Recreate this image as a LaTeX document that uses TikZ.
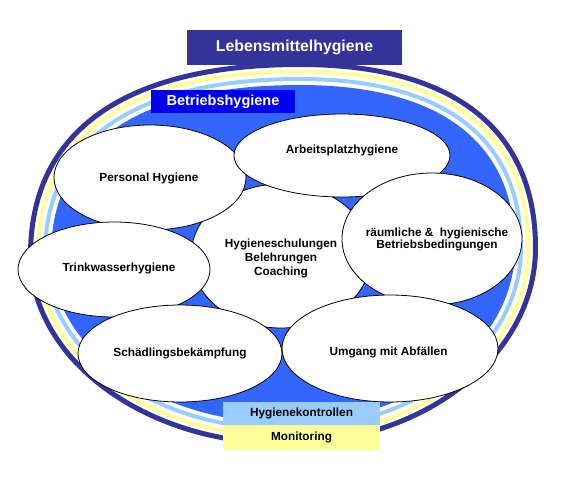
\documentclass[tikz,border=0pt]{standalone}
\usepackage{fontspec}
\setmainfont{Liberation Sans}
\usetikzlibrary{shapes.geometric}
\definecolor{navy}{HTML}{333399}
\definecolor{ringyellow}{HTML}{FFFF99}
\definecolor{ringblue}{HTML}{99CCFF}
\definecolor{fillblue}{HTML}{3366FF}
\definecolor{boxblue}{HTML}{0000F0}
\tikzset{
  ringpath/.style={insert path={
    ({538-#1},248) .. controls ({538-#1},{248-0.65*(186-#1)}) and ({300+0.65*(238-#1)},{62+#1}) .. (300,{62+#1})
    .. controls ({300-0.65*(272-#1)},{62+#1}) and ({28+#1},{255-0.65*(193-#1)}) .. ({28+#1},255)
    .. controls ({28+#1},{255+0.552*(191-#1)}) and ({285-0.552*(257-#1)},{446-#1}) .. (285,{446-#1})
    .. controls ({285+0.552*(253-#1)},{446-#1}) and ({538-#1},{248+0.552*(198-#1)}) .. ({538-#1},248) -- cycle}},
  bub/.style={ellipse, draw=black, line width=0.8pt, fill=white, inner sep=0pt},
  lbl/.style={font=\bfseries\fontsize{11.8}{14}\selectfont, align=center, inner sep=0pt, text=black},
  tagbox/.style={inner sep=0pt, draw=none},
}
\begin{document}
\begin{tikzpicture}[x=1pt,y=-1pt]
\useasboundingbox (0,0) rectangle (565,491);
% rings
\draw[navy, line width=5pt, ringpath=2.5];
\draw[ringyellow, line width=4pt, ringpath=9.5];
\draw[ringblue, line width=4pt, ringpath=17];
\fill[fillblue, ringpath=23];
% ellipses
\node[bub, minimum width=180pt, minimum height=144pt] (core) at (281,256) {};
\node[bub, minimum width=192pt, minimum height=105pt] (pers) at (150,177.5) {};
\node[bub, minimum width=216pt, minimum height=83pt] (arb) at (342,155.5) {};
\node[bub, minimum width=180pt, minimum height=132pt] (raum) at (432,239) {};
\node[bub, minimum width=192pt, minimum height=95pt] (trink) at (114,269.5) {};
\node[bub, minimum width=204pt, minimum height=97pt] (schaed) at (180,353.5) {};
\node[bub, minimum width=216pt, minimum height=107pt] (umg) at (390,348.5) {};
% labels
\node[lbl] (coreT) at (281,258) {Hygieneschulungen\\Belehrungen\\Coaching};
\node[lbl] (persT) at (149,178) {Personal Hygiene};
\node[lbl] (arbT) at (342,150) {Arbeitsplatzhygiene};
\node[lbl, font=\bfseries\fontsize{11.8}{12.5}\selectfont] (raumT) at (437,239.5) {räumliche \&\ \ hygienische\\Betriebsbedingungen};
\node[lbl] (trinkT) at (119,268) {Trinkwasserhygiene};
\node[lbl] (schaedT) at (180,353) {Schädlingsbekämpfung};
\node[lbl] (umgT) at (388.5,352) {Umgang mit Abfällen};
% boxes
\node[tagbox, fill=navy, minimum width=215pt, minimum height=35pt, text=white,
      font=\bfseries\fontsize{15.8}{18}\selectfont] (title) at (294.5,47.5) {Lebensmittelhygiene};
\node[tagbox, fill=boxblue, minimum width=144pt, minimum height=23pt, text=white,
      font=\bfseries\fontsize{14.5}{16}\selectfont] (betr) at (223,101.5) {Betriebshygiene};
\node[tagbox, fill=ringblue, minimum width=157pt, minimum height=23pt,
      font=\bfseries\fontsize{11.8}{14}\selectfont] (kontr) at (301.5,413.5) {Hygienekontrollen};
\node[tagbox, fill=ringyellow, minimum width=157pt, minimum height=25pt,
      font=\bfseries\fontsize{11.8}{14}\selectfont] (moni) at (301.5,437.5) {Monitoring};
\end{tikzpicture}
\end{document}
